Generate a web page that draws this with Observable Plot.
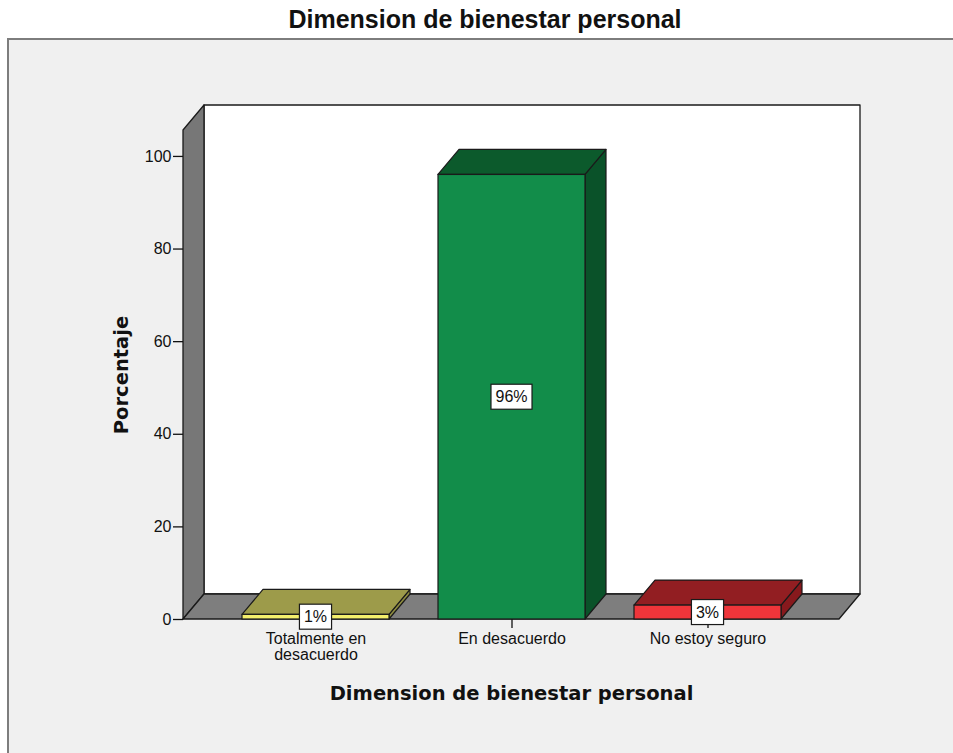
<!DOCTYPE html>
<html><head><meta charset="utf-8">
<script src="https://cdn.jsdelivr.net/npm/d3@7"></script>
<script src="https://cdn.jsdelivr.net/npm/@observablehq/plot@0.6"></script>
<style>
body{margin:0;background:#fff;width:953px;height:753px;overflow:hidden;position:relative;font-family:"Liberation Sans",Arial,sans-serif;}
#title{position:absolute;left:0;top:4px;width:970px;text-align:center;font:bold 25px "Liberation Sans",Arial,sans-serif;color:#111;line-height:30px;}
#panel{position:absolute;left:7px;top:38px;width:970px;height:730px;background:#f0f0f0;border-left:2px solid #7d7d7d;border-top:2px solid #7d7d7d;}
#chart{position:absolute;left:0;top:38px;}
#chart svg{background:transparent !important;}
</style></head>
<body>
<div id="title">Dimension de bienestar personal</div>
<div id="panel"></div>
<div id="chart"></div>
<script>
const categories = ["Totalmente en desacuerdo", "En desacuerdo", "No estoy seguro"];
const percents = [1, 96, 3];
const valueLabels = ["1%", "96%", "3%"];
const tickLabels = ["Totalmente en\ndesacuerdo", "En desacuerdo", "No estoy seguro"];
const yTicks = [0, 20, 40, 60, 80, 100];
const frontColors = ["#f4ef6c", "#128d4a", "#ef353a"];
const topColors = ["#9d9b4a", "#0c5a2c", "#921e22"];
const sideColors = ["#8f8d40", "#0a5229", "#87191d"];

const data = categories.map((c, i) => ({cat: c, value: percents[i], label: valueLabels[i], tick: tickLabels[i], front: frontColors[i], top: topColors[i], side: sideColors[i]}));

const DX = 21, DY = 25;   // 3D depth offsets (pixels)
const Y_MAX = 105.6;

function walls(index, {x, y}, values, {width, marginLeft, marginRight}) {
  const g = d3.create("svg:g").attr("stroke", "#1a1a1a").attr("stroke-width", 1.3).attr("stroke-linejoin", "round");
  const x0 = marginLeft, x1 = width - marginRight, yb = y(0), yt = y(Y_MAX);
  g.append("path").attr("fill", "#ffffff").attr("d", `M${x0+DX},${yt-DY}H${x1+DX}V${yb-DY}H${x0+DX}Z`);
  g.append("path").attr("fill", "#777777").attr("d", `M${x0},${yb}V${yt}L${x0+DX},${yt-DY}V${yb-DY}Z`);
  g.append("path").attr("fill", "#7e7e7e").attr("d", `M${x0},${yb}H${x1}L${x1+DX},${yb-DY}H${x0+DX}Z`);
  return g.node();
}

function barFaces(index, {x, y}) {
  const g = d3.create("svg:g").attr("stroke", "#1a1a1a").attr("stroke-width", 1.2).attr("stroke-linejoin", "round");
  const bw = x.bandwidth();
  data.forEach(d => {
    const x0 = x(d.cat), x1 = x0 + bw, yt = y(d.value), yb = y(0);
    g.append("path").attr("fill", d.side).attr("d", `M${x1},${yt}L${x1+DX},${yt-DY}V${yb-DY}L${x1},${yb}Z`);
    g.append("path").attr("fill", d.top).attr("d", `M${x0},${yt}L${x0+DX},${yt-DY}H${x1+DX}L${x1},${yt}Z`);
  });
  return g.node();
}

const ctx = document.createElement("canvas").getContext("2d");
ctx.font = '16px "Liberation Sans", Arial, sans-serif';
function valueBoxes(index, {x, y}) {
  const g = d3.create("svg:g");
  const bw = x.bandwidth();
  data.forEach(d => {
    const cx = x(d.cat) + bw / 2, cy = y(d.value / 2);
    const w = ctx.measureText(d.label).width + 9, h = 25;
    g.append("rect").attr("x", cx - w / 2).attr("y", cy - h / 2).attr("width", w).attr("height", h)
      .attr("fill", "#fff").attr("stroke", "#1a1a1a").attr("stroke-width", 1.2);
    g.append("text").attr("x", cx).attr("y", cy).attr("dy", "0.36em").attr("text-anchor", "middle")
      .attr("font-size", 16).attr("fill", "#111").text(d.label);
  });
  return g.node();
}

const plot = Plot.plot({
  width: 953,
  height: 715,
  marginLeft: 183,
  marginRight: 114,
  marginTop: 92,
  marginBottom: 134,
  style: {background: "transparent", fontFamily: '"Liberation Sans", Arial, sans-serif', color: "#111", overflow: "visible"},
  x: {domain: categories, paddingInner: 0.25, paddingOuter: 0.29},
  y: {domain: [0, Y_MAX]},
  color: {type: "identity"},
  marks: [
    walls,
    Plot.axisY({ticks: yTicks, tickSize: 10, tickPadding: 2, fontSize: 16, label: null, strokeWidth: 1.3}),
    Plot.axisX({tickSize: 9, tickPadding: 4, fontSize: 16, label: null, strokeWidth: 1.3,
      tickFormat: c => tickLabels[categories.indexOf(c)]}),
    barFaces,
    Plot.barY(data, {x: "cat", y: "value", fill: "front", stroke: "#1a1a1a", strokeWidth: 1.2}),
    valueBoxes,
    Plot.text(["Porcentaje"], {frameAnchor: "left", dx: -62, rotate: -90, textAnchor: "middle", lineAnchor: "middle", fontSize: 19.5, fontWeight: "bold", fontFamily: "DejaVu Sans", fill: "#111"}),
    Plot.text(["Dimension de bienestar personal"], {frameAnchor: "bottom", dy: 74, textAnchor: "middle", lineAnchor: "middle", fontSize: 19.5, fontWeight: "bold", fontFamily: "DejaVu Sans", fill: "#111"})
  ]
});
document.getElementById("chart").appendChild(plot);
</script>
</body></html>
